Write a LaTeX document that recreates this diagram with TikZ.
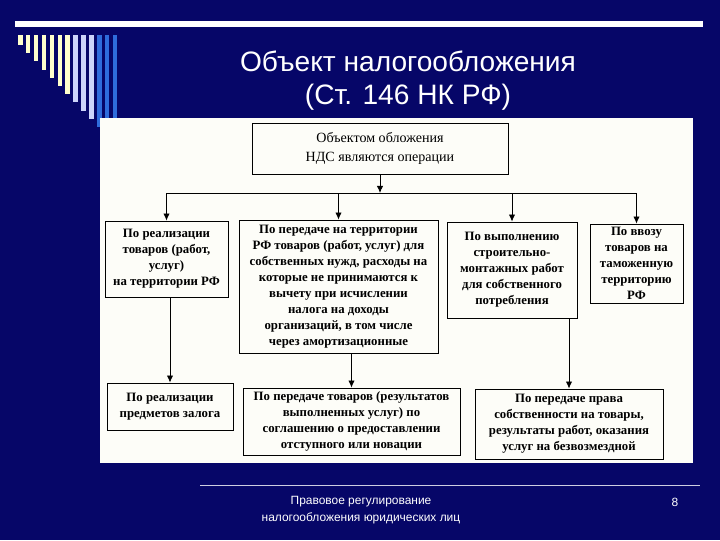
\documentclass[tikz,border=0pt]{standalone}
\usepackage{fontspec}
\setmainfont{Liberation Serif}
\newfontfamily\slidefont{Liberation Sans}
\usetikzlibrary{arrows.meta}

\definecolor{slidebg}{RGB}{6,6,104}
\definecolor{barcream}{RGB}{255,255,204}
\definecolor{barlilac}{RGB}{204,212,250}
\definecolor{barblue}{RGB}{46,108,220}
\definecolor{panelbg}{RGB}{253,253,248}

\begin{document}
\begin{tikzpicture}[
    x=0.025cm, y=-0.025cm,
    box/.style={draw=black, line width=0.6pt, fill=panelbg, align=center, inner sep=1pt,
        font=\fontsize{9.1}{11.4}\selectfont\bfseries},
    leadbox/.style={box, font=\fontsize{10}{13.5}\selectfont},
    arr/.style={-{Latex[length=5pt,width=4.5pt]}, line width=0.6pt},
    slidetext/.style={text=white, align=center, font=\slidefont}
]

    % --- SLIDE BACKGROUND ---
    \fill[slidebg] (0,0) rectangle (720,540);
    \useasboundingbox (0,0) rectangle (720,540);

    % top rule and corner bars
    \fill[white] (15,21) rectangle (703,27);
    \foreach \i/\c in {0/barcream,1/barcream,2/barcream,3/barcream,4/barcream,5/barcream,6/barcream,
                       7/barlilac,8/barlilac,9/barlilac,10/barblue,11/barblue,12/barblue}
        \fill[\c] ({18+7.9*\i},35) rectangle ({22.5+7.9*\i},{45+8.2*\i});

    % Title
    \node[slidetext, font=\slidefont\fontsize{20}{23.5}\selectfont] (title) at (408,81)
        {Объект налогообложения\\(Ст. 146 НК РФ)};

    % --- DIAGRAM PANEL ---
    \fill[panelbg] (100,118) rectangle (693,463);

    % Head box
    \node[leadbox, minimum width=6.4cm, minimum height=1.275cm] (head) at (380,148.5)
        {Объектом обложения\\НДС являются операции};

    % First row
    \node[box, minimum width=3.075cm, minimum height=1.9cm] (sale) at (166.5,259)
        {По реализации\\товаров (работ,\\услуг)\\на территории РФ};
    \node[box, minimum width=4.975cm, minimum height=3.325cm] (ownuse) at (338.5,286.5)
        {По передаче на территории\\РФ товаров (работ, услуг) для\\собственных нужд, расходы на\\которые не принимаются к\\вычету при исчислении\\налога на доходы\\организаций, в том числе\\через амортизационные};
    \node[box, minimum width=3.25cm, minimum height=2.4cm] (build) at (512,270)
        {По выполнению\\строительно-\\монтажных работ\\для собственного\\потребления};
    \node[box, minimum width=2.325cm, minimum height=1.975cm] (import) at (636.5,263.5)
        {По ввозу\\товаров на\\таможенную\\территорию\\РФ};

    % Second row
    \node[box, minimum width=3.15cm, minimum height=1.175cm] (pledge) at (170,406.5)
        {По реализации\\предметов залога};
    \node[box, minimum width=5.425cm, minimum height=1.675cm] (novation) at (351.5,421.5)
        {По передаче товаров (результатов\\выполненных услуг) по\\соглашению о предоставлении\\отступного или новации};
    \node[box, minimum width=4.7cm, minimum height=1.75cm] (gratis) at (569,424)
        {По передаче права\\собственности на товары,\\результаты работ, оказания\\услуг на безвозмездной};

    % Connectors
    \coordinate (bus) at (380,193);
    \draw[arr] (head.south) -- (head.south |- bus);
    \draw[line width=0.6pt] (sale.north |- bus) -- (import.north |- bus);
    \draw[arr] (sale.north |- bus) -- (sale.north);
    \draw[arr] (ownuse.north |- bus) -- (ownuse.north);
    \draw[arr] (build.north |- bus) -- (build.north);
    \draw[arr] (import.north |- bus) -- (import.north);

    \draw[arr] (pledge.north |- sale.south) -- (pledge.north);
    \draw[arr] (novation.north |- ownuse.south) -- (novation.north);
    \draw[arr] (gratis.north |- build.south) -- (gratis.north);

    % --- FOOTER ---
    \draw[white!80!slidebg, line width=0.7pt] (200,485) -- (700,485);
    \node[slidetext, font=\slidefont\fontsize{8.5}{12}\selectfont] (footer) at (361,510)
        {Правовое регулирование\\налогообложения юридических лиц};
    \node[slidetext, font=\slidefont\fontsize{8.5}{12}\selectfont] (pagenum) at (675,502) {8};

\end{tikzpicture}
\end{document}
